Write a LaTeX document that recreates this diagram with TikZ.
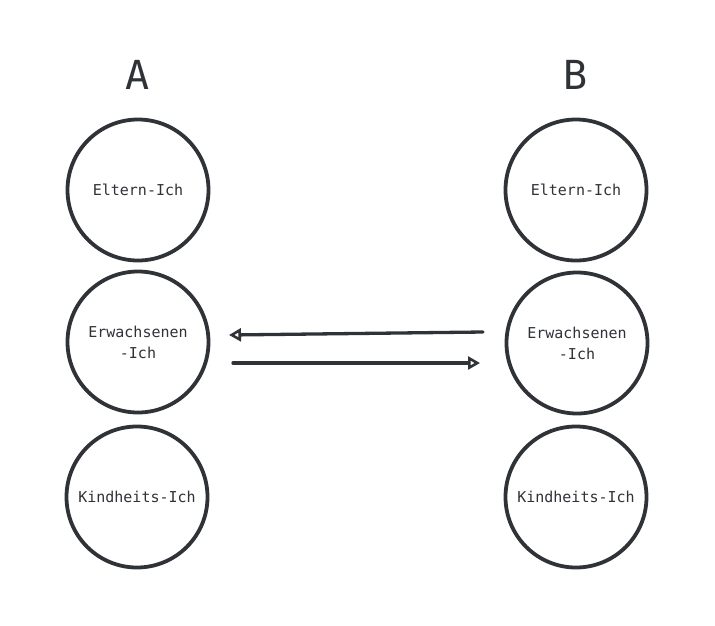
\documentclass[tikz,border=0pt]{standalone}
\usepackage{fontspec}
\setmainfont{DejaVu Sans Mono}
\usetikzlibrary{arrows.meta}
\definecolor{ink}{HTML}{2F3237}
\begin{document}
\begin{tikzpicture}[x=1pt,y=-1pt,
  ego/.style={circle,draw=ink,line width=3.8pt,minimum size=141pt,inner sep=0pt,align=center,text=ink,font=\fontsize{15}{21}\selectfont},
  head/.style={text=ink,font=\fontsize{40}{42}\selectfont},
  link/.style={draw=ink,line width=3.3pt,line cap=round,-{Triangle[open,length=12pt,width=13pt,line width=2.6pt]}}]
\useasboundingbox (0,0) rectangle (715,625);
\node[head] (A) at (138,75) {A};
\node[head] (B) at (576,75) {B};
\node[ego] (a1) at (138,190) {Eltern-Ich};
\node[ego] (a2) at (138,342) {Erwachsenen\\-Ich};
\node[ego] (a3) at (137,497) {Kindheits-Ich};
\node[ego] (b1) at (576,190) {Eltern-Ich};
\node[ego] (b2) at (577,343) {Erwachsenen\\-Ich};
\node[ego] (b3) at (576,497) {Kindheits-Ich};
\coordinate (t1) at (483,332);
\coordinate (t2) at (229,335);
\coordinate (u1) at (233,363);
\coordinate (u2) at (480,363);
\draw[link] (t1) -- (t2);
\draw[link] (u1) -- (u2);
\end{tikzpicture}
\end{document}
